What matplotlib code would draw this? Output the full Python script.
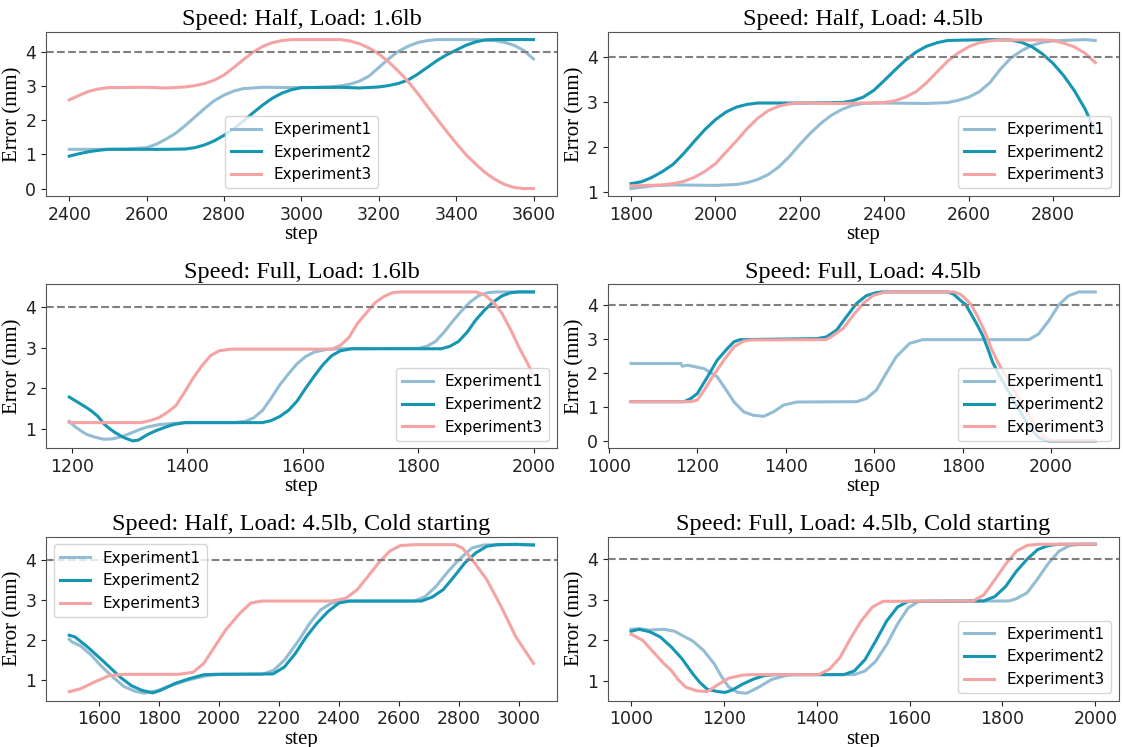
import matplotlib
matplotlib.use("Agg")

import matplotlib.pyplot as plt
import matplotlib.ticker as mticker

# -- Colours --
C_EXP1 = "#93bdd4"
C_EXP2 = "#1596b3"
C_EXP3 = "#f5a3a3"

# -- Speed: Half, Load: 1.6lb --
p1_e1_x = [2400, 2450, 2500, 2550, 2600, 2625, 2650, 2675, 2700, 2725, 2750, 2775, 2800, 2825, 2850, 2900, 3000, 3075, 3100, 3125, 3150, 3175, 3200, 3225, 3250, 3275, 3300, 3325, 3350, 3450, 3500, 3525, 3550, 3575, 3600]
p1_e1_y = [1.15, 1.15, 1.15, 1.16, 1.2, 1.3, 1.45, 1.62, 1.85, 2.1, 2.35, 2.58, 2.74, 2.86, 2.93, 2.97, 2.96, 2.98, 3.01, 3.06, 3.15, 3.3, 3.55, 3.8, 4.02, 4.17, 4.28, 4.34, 4.37, 4.37, 4.34, 4.29, 4.2, 4.05, 3.8]
p1_e2_x = [2400, 2425, 2450, 2475, 2500, 2650, 2700, 2725, 2750, 2775, 2800, 2825, 2850, 2875, 2900, 2925, 2950, 2975, 3000, 3100, 3150, 3200, 3225, 3250, 3275, 3300, 3325, 3350, 3375, 3400, 3425, 3450, 3475, 3500, 3600]
p1_e2_y = [0.95, 1.02, 1.08, 1.12, 1.15, 1.15, 1.16, 1.2, 1.28, 1.4, 1.56, 1.75, 1.98, 2.22, 2.45, 2.65, 2.8, 2.9, 2.96, 2.97, 2.95, 2.98, 3.02, 3.08, 3.18, 3.35, 3.55, 3.75, 3.92, 4.06, 4.2, 4.3, 4.36, 4.37, 4.37]
p1_e3_x = [2400, 2425, 2450, 2475, 2500, 2600, 2650, 2700, 2725, 2750, 2775, 2800, 2825, 2850, 2875, 2900, 2925, 2950, 2975, 3100, 3125, 3150, 3175, 3200, 3225, 3250, 3275, 3300, 3325, 3350, 3375, 3400, 3425, 3450, 3475, 3500, 3525, 3550, 3575, 3600]
p1_e3_y = [2.6, 2.73, 2.85, 2.92, 2.96, 2.97, 2.95, 2.98, 3.02, 3.08, 3.18, 3.33, 3.55, 3.78, 4.0, 4.17, 4.28, 4.34, 4.37, 4.37, 4.33, 4.25, 4.12, 3.95, 3.72, 3.45, 3.15, 2.8, 2.42, 2.05, 1.68, 1.33, 1.0, 0.72, 0.47, 0.27, 0.12, 0.03, 0.0, 0.0]

# -- Speed: Half, Load: 4.5lb --
p2_e1_x = [1800, 1825, 1850, 1900, 2000, 2050, 2075, 2100, 2125, 2150, 2175, 2200, 2225, 2250, 2275, 2300, 2325, 2350, 2400, 2500, 2550, 2575, 2600, 2625, 2650, 2675, 2700, 2725, 2750, 2775, 2800, 2850, 2875, 2900]
p2_e1_y = [1.07, 1.1, 1.13, 1.15, 1.14, 1.16, 1.2, 1.27, 1.38, 1.55, 1.78, 2.05, 2.3, 2.52, 2.7, 2.83, 2.92, 2.96, 2.97, 2.96, 2.98, 3.03, 3.1, 3.22, 3.42, 3.72, 3.97, 4.13, 4.25, 4.32, 4.35, 4.37, 4.38, 4.36]
p2_e2_x = [1800, 1825, 1850, 1875, 1900, 1925, 1950, 1975, 2000, 2025, 2050, 2075, 2100, 2200, 2300, 2325, 2350, 2375, 2400, 2425, 2450, 2475, 2500, 2525, 2550, 2650, 2700, 2725, 2750, 2775, 2800, 2825, 2850, 2875, 2900]
p2_e2_y = [1.18, 1.22, 1.32, 1.45, 1.61, 1.85, 2.12, 2.38, 2.6, 2.77, 2.88, 2.94, 2.97, 2.97, 2.98, 3.02, 3.1, 3.25, 3.47, 3.7, 3.92, 4.1, 4.23, 4.31, 4.36, 4.38, 4.37, 4.32, 4.22, 4.06, 3.85, 3.58, 3.25, 2.85, 2.35]
p2_e3_x = [1800, 1875, 1900, 1925, 1950, 1975, 2000, 2025, 2050, 2075, 2100, 2125, 2150, 2175, 2200, 2300, 2400, 2425, 2450, 2475, 2500, 2525, 2550, 2575, 2600, 2625, 2650, 2675, 2775, 2800, 2825, 2850, 2875, 2900]
p2_e3_y = [1.13, 1.15, 1.18, 1.23, 1.32, 1.45, 1.62, 1.88, 2.13, 2.4, 2.63, 2.8, 2.9, 2.95, 2.97, 2.96, 2.98, 3.02, 3.1, 3.22, 3.42, 3.66, 3.9, 4.08, 4.22, 4.31, 4.35, 4.37, 4.37, 4.36, 4.3, 4.22, 4.08, 3.87]

# -- Speed: Full, Load: 1.6lb --
p3_e1_x = [1195, 1205, 1215, 1225, 1240, 1255, 1270, 1285, 1300, 1315, 1330, 1350, 1375, 1400, 1480, 1500, 1515, 1530, 1545, 1560, 1575, 1590, 1605, 1620, 1640, 1660, 1800, 1815, 1830, 1845, 1860, 1875, 1890, 1905, 1920, 1935, 2000]
p3_e1_y = [1.18, 1.05, 0.95, 0.86, 0.79, 0.74, 0.75, 0.8, 0.88, 0.97, 1.04, 1.1, 1.13, 1.15, 1.15, 1.18, 1.27, 1.45, 1.75, 2.08, 2.35, 2.6, 2.78, 2.89, 2.95, 2.97, 2.98, 3.03, 3.15, 3.38, 3.65, 3.9, 4.12, 4.28, 4.35, 4.37, 4.37]
p3_e2_x = [1195, 1210, 1225, 1235, 1245, 1255, 1265, 1275, 1290, 1305, 1315, 1330, 1345, 1360, 1375, 1395, 1530, 1545, 1560, 1575, 1590, 1605, 1620, 1635, 1650, 1665, 1685, 1840, 1855, 1870, 1885, 1900, 1915, 1930, 1945, 1960, 1975, 2000]
p3_e2_y = [1.78, 1.65, 1.52, 1.42, 1.3, 1.12, 1.0, 0.9, 0.78, 0.7, 0.72, 0.85, 0.95, 1.03, 1.1, 1.15, 1.15, 1.2, 1.3, 1.45, 1.68, 2.0, 2.3, 2.58, 2.8, 2.92, 2.97, 2.97, 3.03, 3.15, 3.38, 3.68, 3.92, 4.12, 4.27, 4.35, 4.37, 4.37]
p3_e3_x = [1195, 1320, 1335, 1350, 1365, 1380, 1395, 1410, 1425, 1440, 1455, 1475, 1650, 1665, 1680, 1695, 1710, 1725, 1740, 1755, 1770, 1900, 1915, 1930, 1945, 1960, 1975, 1990, 2000]
p3_e3_y = [1.15, 1.15, 1.2, 1.27, 1.4, 1.57, 1.9, 2.25, 2.55, 2.8, 2.92, 2.96, 2.96, 3.05, 3.25, 3.6, 3.85, 4.1, 4.25, 4.35, 4.37, 4.37, 4.3, 4.12, 3.85, 3.45, 3.0, 2.6, 2.3]

# -- Speed: Full, Load: 4.5lb --
p4_e1_x = [1050, 1163, 1166, 1178, 1215, 1245, 1268, 1283, 1305, 1327, 1350, 1372, 1395, 1425, 1560, 1582, 1605, 1627, 1650, 1680, 1710, 1950, 1972, 1995, 2018, 2040, 2063, 2100]
p4_e1_y = [2.27, 2.27, 2.19, 2.22, 2.12, 1.88, 1.44, 1.14, 0.85, 0.75, 0.72, 0.85, 1.05, 1.14, 1.15, 1.24, 1.49, 1.98, 2.47, 2.86, 2.97, 2.97, 3.14, 3.53, 4.0, 4.26, 4.37, 4.37]
p4_e2_x = [1050, 1170, 1185, 1200, 1223, 1245, 1268, 1283, 1297, 1470, 1492, 1515, 1537, 1560, 1582, 1605, 1620, 1766, 1780, 1795, 1807, 1820, 1833, 1845, 1857, 1868, 1882, 1895, 1908, 1921, 1934, 1947, 1960, 1972, 1985, 1995, 2100]
p4_e2_y = [1.15, 1.15, 1.24, 1.39, 1.88, 2.37, 2.71, 2.91, 2.97, 3.0, 3.05, 3.25, 3.64, 4.03, 4.26, 4.35, 4.37, 4.37, 4.3, 4.12, 4.0, 3.7, 3.4, 3.1, 2.7, 2.3, 1.95, 1.65, 1.35, 1.05, 0.78, 0.5, 0.27, 0.1, 0.02, 0.0, 0.0]
p4_e3_x = [1050, 1185, 1200, 1215, 1237, 1260, 1283, 1305, 1320, 1490, 1500, 1530, 1552, 1575, 1597, 1620, 1635, 1780, 1795, 1808, 1819, 1832, 1845, 1855, 1865, 1880, 1895, 1909, 1922, 1936, 1949, 1962, 1975, 1988, 2000, 2010, 2100]
p4_e3_y = [1.15, 1.15, 1.2, 1.48, 1.93, 2.37, 2.76, 2.93, 2.96, 2.97, 3.03, 3.3, 3.68, 4.03, 4.26, 4.35, 4.37, 4.37, 4.3, 4.15, 4.0, 3.7, 3.35, 3.05, 2.7, 2.3, 1.95, 1.65, 1.35, 1.05, 0.75, 0.5, 0.25, 0.08, 0.02, 0.0, 0.0]

# -- Speed: Half, Load: 4.5lb, Cold starting --
p5_e1_x = [1500, 1510, 1537, 1573, 1610, 1646, 1682, 1719, 1750, 1792, 1840, 1888, 1925, 1961, 2010, 2145, 2182, 2218, 2267, 2303, 2339, 2376, 2412, 2652, 2688, 2724, 2761, 2791, 2822, 2845, 2882, 2918, 3050]
p5_e1_y = [2.02, 1.95, 1.86, 1.63, 1.33, 1.08, 0.85, 0.73, 0.68, 0.74, 0.87, 0.99, 1.06, 1.12, 1.15, 1.15, 1.25, 1.5, 2.0, 2.42, 2.75, 2.92, 2.97, 2.97, 3.08, 3.33, 3.67, 3.92, 4.14, 4.29, 4.36, 4.37, 4.37]
p5_e2_x = [1500, 1519, 1561, 1610, 1646, 1670, 1707, 1743, 1779, 1804, 1852, 1900, 1949, 1985, 2180, 2218, 2255, 2291, 2327, 2364, 2400, 2436, 2676, 2712, 2748, 2785, 2821, 2858, 2894, 2930, 2991, 3050]
p5_e2_y = [2.12, 2.08, 1.83, 1.5, 1.25, 1.08, 0.87, 0.75, 0.69, 0.75, 0.92, 1.04, 1.14, 1.15, 1.16, 1.33, 1.67, 2.08, 2.42, 2.71, 2.92, 2.97, 2.97, 3.07, 3.25, 3.58, 3.92, 4.17, 4.33, 4.37, 4.38, 4.36]
p5_e3_x = [1500, 1537, 1585, 1634, 1682, 1864, 1913, 1949, 1985, 2022, 2070, 2106, 2142, 2376, 2424, 2461, 2497, 2533, 2570, 2606, 2655, 2788, 2812, 2845, 2894, 2942, 2991, 3050]
p5_e3_y = [0.72, 0.79, 0.96, 1.12, 1.15, 1.15, 1.2, 1.42, 1.83, 2.25, 2.67, 2.92, 2.97, 2.97, 3.04, 3.25, 3.58, 3.92, 4.21, 4.35, 4.37, 4.37, 4.29, 4.0, 3.5, 2.83, 2.08, 1.42]

# -- Speed: Full, Load: 4.5lb, Cold starting --
p6_e1_x = [1000, 1020, 1040, 1071, 1094, 1110, 1133, 1156, 1179, 1195, 1210, 1230, 1249, 1272, 1303, 1334, 1350, 1481, 1504, 1527, 1551, 1574, 1597, 1620, 1814, 1829, 1853, 1876, 1899, 1922, 1945, 1968, 2000]
p6_e1_y = [2.27, 2.28, 2.25, 2.27, 2.22, 2.12, 1.98, 1.75, 1.42, 1.1, 0.85, 0.71, 0.69, 0.82, 1.03, 1.13, 1.15, 1.15, 1.24, 1.48, 1.9, 2.4, 2.8, 2.96, 2.97, 3.02, 3.17, 3.52, 3.9, 4.2, 4.34, 4.37, 4.37]
p6_e2_x = [1000, 1017, 1040, 1063, 1087, 1110, 1133, 1148, 1164, 1187, 1203, 1218, 1241, 1264, 1288, 1311, 1458, 1481, 1504, 1527, 1551, 1574, 1597, 1760, 1784, 1807, 1830, 1853, 1876, 1899, 1922, 2000]
p6_e2_y = [2.22, 2.27, 2.21, 2.08, 1.83, 1.54, 1.17, 0.96, 0.79, 0.73, 0.71, 0.77, 0.92, 1.04, 1.13, 1.15, 1.15, 1.24, 1.52, 1.98, 2.48, 2.82, 2.96, 2.97, 3.08, 3.33, 3.7, 4.0, 4.24, 4.34, 4.37, 4.37]
p6_e3_x = [1000, 1025, 1048, 1071, 1087, 1102, 1118, 1141, 1164, 1187, 1210, 1241, 1260, 1404, 1427, 1450, 1473, 1496, 1520, 1543, 1737, 1760, 1784, 1807, 1830, 1853, 1876, 2000]
p6_e3_y = [2.15, 2.0, 1.71, 1.42, 1.25, 1.02, 0.84, 0.75, 0.73, 0.9, 1.06, 1.14, 1.15, 1.15, 1.28, 1.57, 2.05, 2.48, 2.82, 2.96, 2.97, 3.12, 3.5, 3.88, 4.2, 4.34, 4.37, 4.37]

TITLES = [
    "Speed: Half, Load: 1.6lb",
    "Speed: Half, Load: 4.5lb",
    "Speed: Full, Load: 1.6lb",
    "Speed: Full, Load: 4.5lb",
    "Speed: Half, Load: 4.5lb, Cold starting",
    "Speed: Full, Load: 4.5lb, Cold starting",
]
LEGEND_LOCS = ["lower center", "lower right", "lower right",
               "lower right", "upper left", "lower right"]

PANELS = [
    [(p1_e1_x, p1_e1_y), (p1_e2_x, p1_e2_y), (p1_e3_x, p1_e3_y)],
    [(p2_e1_x, p2_e1_y), (p2_e2_x, p2_e2_y), (p2_e3_x, p2_e3_y)],
    [(p3_e1_x, p3_e1_y), (p3_e2_x, p3_e2_y), (p3_e3_x, p3_e3_y)],
    [(p4_e1_x, p4_e1_y), (p4_e2_x, p4_e2_y), (p4_e3_x, p4_e3_y)],
    [(p5_e1_x, p5_e1_y), (p5_e2_x, p5_e2_y), (p5_e3_x, p5_e3_y)],
    [(p6_e1_x, p6_e1_y), (p6_e2_x, p6_e2_y), (p6_e3_x, p6_e3_y)],
]
COLORS = [C_EXP1, C_EXP2, C_EXP3]
LABELS = ["Experiment1", "Experiment2", "Experiment3"]
SERIF = "Liberation Serif"

fig, axes = plt.subplots(3, 2, figsize=(11.23, 7.47), dpi=100)
fig.subplots_adjust(left=0.041, right=0.996, bottom=0.062, top=0.957,
                    wspace=0.1, hspace=0.54)

for ax, series, title, loc in zip(axes.flat, PANELS, TITLES, LEGEND_LOCS):
    for (xs, ys), color, label in zip(series, COLORS, LABELS):
        ax.plot(xs, ys, color=color, linewidth=2.2, label=label)
    ax.axhline(4, color="gray", linestyle="--", linewidth=1.5)

    ax.set_title(title, fontsize=17.5, family=SERIF, pad=5)
    ax.set_xlabel("step", fontsize=15, family=SERIF, labelpad=1)
    ax.set_ylabel("Error (mm)", fontsize=15, family=SERIF, labelpad=2)
    ax.xaxis.set_major_locator(mticker.MultipleLocator(200))
    ax.yaxis.set_major_locator(mticker.MultipleLocator(1))
    ax.tick_params(labelsize=12.5, colors="#222222")
    for spine in ax.spines.values():
        spine.set_edgecolor("#555555")
    ax.legend(loc=loc, fontsize=11)

plt.savefig("out.png", dpi=100)
plt.close()
